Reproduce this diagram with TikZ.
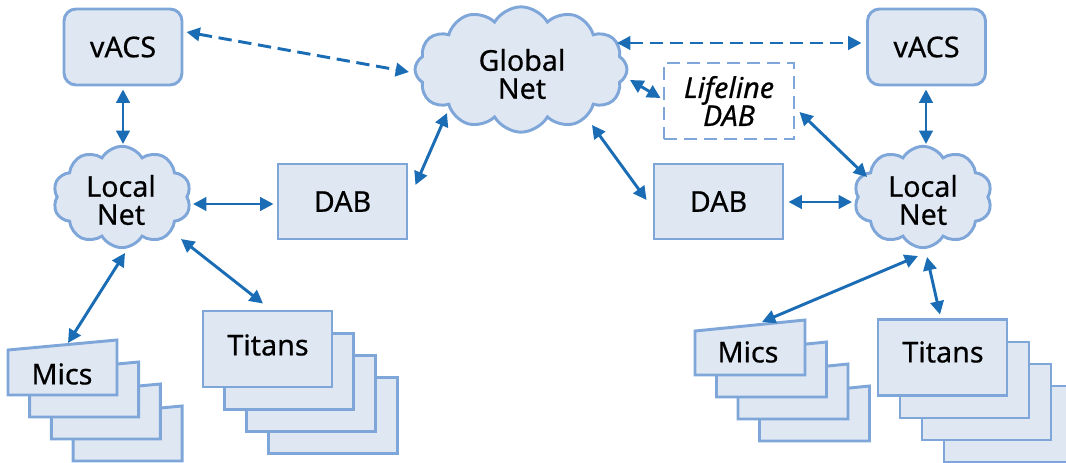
\documentclass[tikz,border=0pt]{standalone}
\usepackage{fontspec}
\setmainfont{Noto Sans}[FakeBold=0.5]
\newfontfamily\lifefont{Noto Sans Italic}[FakeBold=0.5]
\usetikzlibrary{shapes.symbols,arrows.meta}
\definecolor{boxfill}{HTML}{DFE7F3}
\definecolor{boxline}{HTML}{7EA6D9}
\definecolor{arrowc}{HTML}{1A6DB5}
\begin{document}
\begin{tikzpicture}[x=0.75pt,y=-0.75pt,
  lbl/.style={font=\fontsize{21.5}{21}\selectfont, text=black, inner sep=0pt, align=center},
  box/.style={draw=boxline, fill=boxfill, line width=2.2pt},
  cloudbox/.style={box, cloud, cloud puffs=#1, cloud puff arc=120, cloud ignores aspect, inner sep=0pt},
  arr/.style={draw=arrowc, line width=2.2pt, {Triangle[length=10pt,width=10pt]}-{Triangle[length=10pt,width=10pt]}},
  dsh/.style={dash pattern=on 10pt off 5pt}]
\useasboundingbox (0,0) rectangle (1066,463);

% top boxes
\node[box, rounded corners=9pt, minimum width=88.5pt, minimum height=57pt, lbl] (lvacs) at (123,47) {vACS};
\node[box, rounded corners=9pt, minimum width=88.5pt, minimum height=57pt, lbl] (rvacs) at (926.5,47) {vACS};

% clouds
\node[cloudbox=10, minimum width=103.5pt, minimum height=76pt] (lcloud) at (122,197) {};
\node[lbl] (lcloudt) at (121,200) {Local\\Net};
\node[cloudbox=10, minimum width=103.5pt, minimum height=76pt] (rcloud) at (923,197) {};
\node[lbl] (rcloudt) at (923,200) {Local\\Net};
\node[cloudbox=12, minimum width=159pt, minimum height=94pt] (gnet) at (521,69.5) {};
\node[lbl] (gnett) at (522,74) {Global\\Net};

% DABs
\node[box, minimum width=96.75pt, minimum height=56.25pt, lbl] (ldab) at (342.5,201.5) {DAB};
\node[box, minimum width=96.75pt, minimum height=56.25pt, lbl] (rdab) at (718.5,201.5) {DAB};
\node[draw=boxline, line width=2.2pt, dsh, minimum width=97.5pt, minimum height=57pt, lbl,
      font=\fontsize{21.5}{21}\lifefont] (life) at (729,101) {Lifeline\\DAB};

% left Mics stack
\foreach \k in {3,2,1} {
  \draw[box] ({8+21.7*\k},{350+22*\k}) -- ({117+21.7*\k},{340+22*\k}) -- ({117+21.7*\k},{395+22*\k}) -- ({8+21.7*\k},{395+22*\k}) -- cycle;
}
\draw[box] (8,350) -- (117,340) -- (117,395) -- (8,395) -- cycle;
\coordinate (lmics) at (68,343);
\node[lbl] (lmicst) at (62,374) {Mics};

% right Mics stack
\foreach \k in {3,2,1} {
  \draw[box] ({695+21.5*\k},{331+22*\k}) -- ({805+21.5*\k},{320+22*\k}) -- ({805+21.5*\k},{375+22*\k}) -- ({695+21.5*\k},{375+22*\k}) -- cycle;
}
\draw[box] (695,331) -- (805,320) -- (805,375) -- (695,375) -- cycle;
\coordinate (rmics) at (762,322);
\node[lbl] (rmicst) at (748,352) {Mics};

% left Titans stack
\foreach \k in {3,2,1} {
  \draw[box] ({203+21.7*\k},{311+22.3*\k}) rectangle +(129,76);
}
\node[box, minimum width=96.75pt, minimum height=57pt] (ltit) at (267.5,349) {};
\node[lbl] (ltitt) at (268,345) {Titans};

% right Titans stack
\foreach \k in {3,2,1} {
  \draw[box] ({878+22*\k},{320+22*\k}) rectangle +(129,76);
}
\node[box, minimum width=96.75pt, minimum height=57pt] (rtit) at (942.5,357.5) {};
\node[lbl] (rtitt) at (943,352) {Titans};

% connectors
\draw[arr,dsh] ([shift={(3,-15)}]lvacs.east) -- ([shift={(-112,2.5)}]gnet.center);
\draw[arr,dsh] ([shift={(96,-26.5)}]gnet.center) -- ([shift={(-4.5,-4)}]rvacs.west);
\draw[arr] ([shift={(0,3)}]lvacs.south) -- ([shift={(1,-53)}]lcloud.center);
\draw[arr] ([shift={(71,7)}]lcloud.center) -- ([shift={(-3,2.5)}]ldab.west);
\draw[arr] ([shift={(7,-16.5)}]ldab.east) -- ([shift={(-74,43.5)}]gnet.center);
\draw[arr] ([shift={(71,55.5)}]gnet.center) -- ([shift={(-6,-1.5)}]rdab.west);
\draw[arr] ([shift={(109,10.5)}]gnet.center) -- ([shift={(-2,-3)}]life.west);
\draw[arr] ([shift={(4,11)}]life.east) -- ([shift={(-56,-20)}]rcloud.center);
\draw[arr] ([shift={(-0.5,3)}]rvacs.south) -- ([shift={(3,-53)}]rcloud.center);
\draw[arr] ([shift={(4,0.5)}]rdab.east) -- ([shift={(-71,5)}]rcloud.center);
\draw[arr] ([shift={(3,56)}]lcloud.center) -- (lmics);
\draw[arr] ([shift={(59,42)}]lcloud.center) -- ([shift={(-4.5,-6)}]ltit.north);
\draw[arr] ([shift={(-5,59)}]rcloud.center) -- (rmics);
\draw[arr] ([shift={(4,60)}]rcloud.center) -- ([shift={(-2.5,-3.5)}]rtit.north);
\end{tikzpicture}
\end{document}
